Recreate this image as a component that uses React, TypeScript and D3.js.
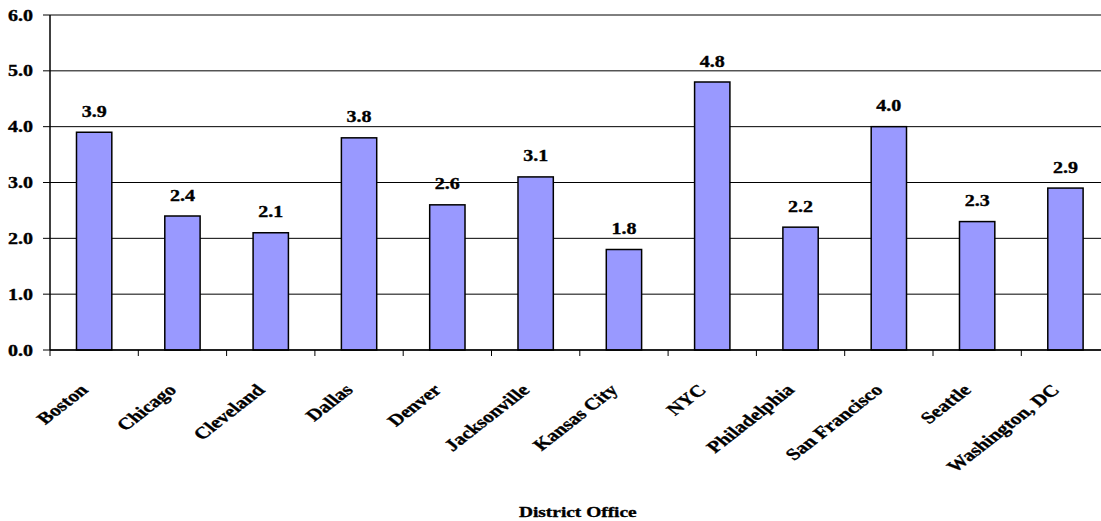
import React from "react";
import * as d3 from "d3";

const offices = [
  "Boston",
  "Chicago",
  "Cleveland",
  "Dallas",
  "Denver",
  "Jacksonville",
  "Kansas City",
  "NYC",
  "Philadelphia",
  "San Francisco",
  "Seattle",
  "Washington, DC",
];
const rates = [3.9, 2.4, 2.1, 3.8, 2.6, 3.1, 1.8, 4.8, 2.2, 4.0, 2.3, 2.9];
const yTicks = [0, 1, 2, 3, 4, 5, 6];
const xTitle = "District Office";

const W = 1101;
const H = 521;
const FONT = "Liberation Serif, Times New Roman, Times, serif";
// the chart's lettering is widened horizontally
const SX = 1.25;

export default function App() {
  const left = 50;
  const right = 1109.6;
  const top = 15;
  const bottom = 350;

  const x = d3
    .scaleBand<string>()
    .domain(offices)
    .range([left, right])
    .paddingInner(0.6)
    .paddingOuter(0.3);
  const step = x.step();
  const y = d3.scaleLinear().domain([0, 6]).range([bottom, top]);
  const fmt = d3.format(".1f");

  const boundaries = d3.range(offices.length + 1).map((i) => left + i * step);
  const textStyle = {
    fontFamily: FONT,
    fontWeight: 700 as const,
    stroke: "#000",
    strokeWidth: 0.35,
  };

  return (
    <svg
      width={W}
      height={H}
      style={{ position: "absolute", left: 0, top: 0, background: "#fff" }}
    >
      {/* gridlines */}
      {yTicks.map((t) => (
        <line
          key={"g" + t}
          x1={left}
          x2={right}
          y1={y(t)}
          y2={y(t)}
          stroke="#000"
          strokeWidth={1}
        />
      ))}
      {/* y ticks and labels */}
      {yTicks.map((t) => (
        <g key={"yt" + t}>
          <line x1={left - 7} x2={left} y1={y(t)} y2={y(t)} stroke="#000" strokeWidth={1} />
          <text
            transform={`translate(33,${y(t) + 5.5}) scale(${SX},1)`}
            textAnchor="end"
            fontSize={16}
            fill="#000"
            style={textStyle}
          >
            {fmt(t)}
          </text>
        </g>
      ))}
      {/* bars */}
      {offices.map((o, i) => (
        <rect
          key={o}
          x={x(o)}
          y={y(rates[i])}
          width={x.bandwidth()}
          height={y(0) - y(rates[i])}
          fill="#9999FF"
          stroke="#000"
          strokeWidth={1.5}
        />
      ))}
      {/* value labels */}
      {offices.map((o, i) => (
        <text
          key={"v" + o}
          transform={`translate(${(x(o) as number) + x.bandwidth() / 2},${y(rates[i]) - 15.5}) scale(${SX},1)`}
          textAnchor="middle"
          fontSize={16}
          fill="#000"
          style={textStyle}
        >
          {fmt(rates[i])}
        </text>
      ))}
      {/* axes */}
      <line x1={left} x2={left} y1={top} y2={bottom} stroke="#000" strokeWidth={1.5} />
      <line x1={left} x2={right} y1={bottom} y2={bottom} stroke="#000" strokeWidth={1.5} />
      {boundaries.map((b, i) => (
        <line key={"xt" + i} x1={b} x2={b} y1={bottom} y2={bottom + 6} stroke="#000" strokeWidth={1} />
      ))}
      {/* category labels: rotated 45°, then widened with the rest of the lettering */}
      {offices.map((o) => {
        const cx = (x(o) as number) + x.bandwidth() / 2;
        return (
          <text
            key={"c" + o}
            transform={`translate(${cx - 5},391) scale(1.28,1) rotate(-45)`}
            textAnchor="end"
            fontSize={16.5}
            fill="#000"
            style={textStyle}
          >
            {o}
          </text>
        );
      })}
      {/* axis title */}
      <text
        transform={`translate(${(left + right) / 2 - 2},517) scale(${SX},1)`}
        textAnchor="middle"
        fontSize={15.5}
        fill="#000"
        style={textStyle}
      >
        {xTitle}
      </text>
    </svg>
  );
}
